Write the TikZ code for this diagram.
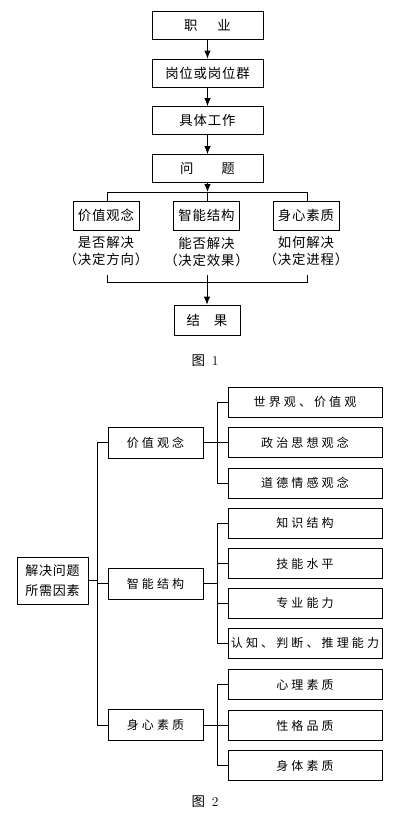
\documentclass[tikz,border=0pt]{standalone}
\usepackage{fontspec}
\newfontfamily\cjk{Noto Sans CJK SC}
\newfontfamily\cjkA{Noto Sans CJK SC}[LetterSpace=6]
\newfontfamily\cjkB{Noto Sans CJK SC}[LetterSpace=26]
\usetikzlibrary{arrows.meta}
\begin{document}
\begin{tikzpicture}[x=1pt,y=1pt,line width=0.8pt,
  fbox/.style={draw,minimum width=111pt,minimum height=28pt,inner sep=0pt,
    font=\fontsize{13.4}{15}\selectfont\cjkA},
  sbox/.style={draw,minimum width=66pt,minimum height=29pt,inner sep=0pt,
    font=\fontsize{13.4}{15}\selectfont\cjkA},
  note/.style={align=center,inner sep=0pt,font=\fontsize{13.4}{17}\selectfont\cjkA},
  mbox/.style={draw,minimum width=95pt,minimum height=31pt,inner sep=0pt,
    font=\fontsize{12}{14}\selectfont\cjkB},
  lbox/.style={draw,minimum width=154pt,minimum height=30pt,inner sep=0pt,
    font=\fontsize{12}{14}\selectfont\cjkB},
  rbox/.style={draw,minimum width=71pt,minimum height=47pt,inner sep=0pt,align=center,
    font=\fontsize{13}{20}\selectfont\cjkA},
  figcap/.style={inner sep=0pt,font=\fontsize{13.5}{15}\selectfont},
  arr/.style={-{Latex[length=8pt,width=6.5pt]}}]
\useasboundingbox (0,0) rectangle (400,-828);

% ---------- Figure 1 ----------
\node[fbox] (job)  at (207.5,-25)   {职\hspace{20pt}业};
\node[fbox] (post) at (207.5,-73)   {岗位或岗位群};
\node[fbox] (work) at (207.5,-120.5){具体工作};
\node[fbox] (prob) at (207.5,-168.5){问\hspace{28pt}题};
\draw[arr] (job) -- (post);
\draw[arr] (post) -- (work);
\draw[arr] (work) -- (prob);

\node[sbox] (v1) at (106,-215.5)   {价值观念};
\node[sbox] (v2) at (206.5,-215.5) {智能结构};
\node[sbox] (v3) at (306,-215.5)   {身心素质};
\coordinate (hl) at (107,-192);
\coordinate (hm) at (207.5,-192);
\coordinate (hr) at (307,-192);
\draw[arr] (prob.south) -- (hm);
\draw (hl) -- (hr);
\draw (hl) -- (hl |- v1.north);
\draw (hm) -- (hm |- v2.north);
\draw (hr) -- (hr |- v3.north);

\node[note] (n1) at (106,-251.5)   {是否解决\\（决定方向）};
\node[note] (n2) at (206.5,-251.5) {能否解决\\（决定效果）};
\node[note] (n3) at (306,-251.5)   {如何解决\\（决定进程）};

\node[sbox,minimum height=30pt] (res) at (207,-320) {结\hspace{14pt}果};
\coordinate (bl) at (107,-282);
\coordinate (bm) at (207,-282);
\coordinate (br) at (307,-282);
\coordinate (blt) at (107,-275);
\coordinate (bmt) at (207,-275);
\coordinate (brt) at (307,-275);
\draw (blt) -- (bl) -- (br) -- (brt);
\draw[arr] (bmt) -- (res.north);

\node[figcap] (c1) at (205,-361) {{\cjk 图}\, 1};

% ---------- Figure 2 ----------
\node[rbox] (root) at (52.5,-580.5) {解决问题\\所需因素};

\node[mbox] (m1) at (155.5,-442.5) {价值观念};
\node[mbox] (m2) at (155.5,-583.5) {智能结构};
\node[mbox] (m3) at (155.5,-725)   {身心素质};

\node[lbox] (l1)  at (305,-402)   {世界观、价值观};
\node[lbox] (l2)  at (305,-442.5) {政治思想观念};
\node[lbox] (l3)  at (305,-483)   {道德情感观念};
\node[lbox] (l4)  at (305,-523)   {知识结构};
\node[lbox] (l5)  at (305,-563.5) {技能水平};
\node[lbox] (l6)  at (305,-603)   {专业能力};
\node[lbox] (l7)  at (305,-643)   {认知、判断、推理能力};
\node[lbox] (l8)  at (305,-684.5) {心理素质};
\node[lbox] (l9)  at (305,-725.5) {性格品质};
\node[lbox] (l10) at (305,-765.5) {身体素质};

\coordinate (tr) at (97,0);
\coordinate (bx) at (217,0);
\draw (root.east) -- (root.east -| tr);
\draw (m1.west) -- (m1.west -| tr) -- (m3.west -| tr) -- (m3.west);
\draw (m2.west) -- (m2.west -| tr);

\draw (l1.west) -- (l1.west -| bx) -- (l3.west -| bx) -- (l3.west);
\draw (l2.west) -- (l2.west -| bx);
\draw (m1.east) -- (m1.east -| bx);

\draw (l4.west) -- (l4.west -| bx) -- (l7.west -| bx) -- (l7.west);
\draw (l5.west) -- (l5.west -| bx);
\draw (l6.west) -- (l6.west -| bx);
\draw (m2.east) -- (m2.east -| bx);

\draw (l8.west) -- (l8.west -| bx) -- (l10.west -| bx) -- (l10.west);
\draw (l9.west) -- (l9.west -| bx);
\draw (m3.east) -- (m3.east -| bx);

\node[figcap] (c2) at (205,-802) {{\cjk 图}\, 2};
\end{tikzpicture}
\end{document}
